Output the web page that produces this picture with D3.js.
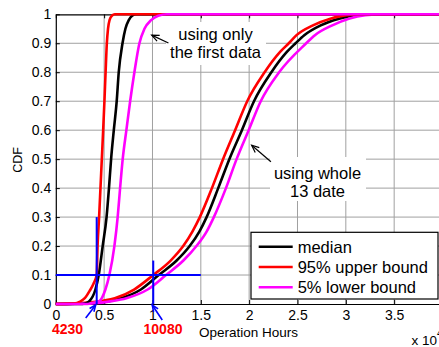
<!DOCTYPE html>
<html>
<head>
<meta charset="utf-8">
<script src="https://cdn.jsdelivr.net/npm/d3@7/dist/d3.min.js"></script>
<style>
  body { margin: 0; background: #fff; }
  text { font-family: "Liberation Sans", Arial, Helvetica, sans-serif; }
</style>
</head>
<body>
<svg id="chart" width="439" height="347"></svg>
<script>
// Axis ticks (operation hours, shown in units of 10^4)
const xTicks = [0, 5000, 10000, 15000, 20000, 25000, 30000, 35000];
const yTicks = [0, 0.1, 0.2, 0.3, 0.4, 0.5, 0.6, 0.7, 0.8, 0.9, 1];

// CDF curves estimated from the first data only: [hours, cdf]
const firstMedian = [[0,0],[2500,0],[3000,0.002],[3470,0.01],[4100,0.05],[4440,0.1],[4850,0.2],[5250,0.3],[5500,0.4],[5720,0.5],[6000,0.6],[6300,0.7],[6510,0.8],[6900,0.9],[7200,0.95],[7550,0.98],[7900,0.995],[8300,1],[40000,1]];
const firstUpper  = [[0,0],[2000,0.002],[2500,0.008],[3000,0.02],[3500,0.045],[3900,0.07],[4230,0.1],[4320,0.2],[4480,0.3],[4620,0.4],[4760,0.5],[4900,0.6],[5030,0.7],[5150,0.8],[5280,0.9],[5400,0.95],[5560,0.98],[5800,0.995],[6100,1],[40000,1]];
const firstLower  = [[0,0],[3000,0],[3600,0.002],[4500,0.01],[5130,0.05],[5540,0.1],[6060,0.2],[6400,0.3],[6650,0.4],[6920,0.5],[7300,0.6],[7690,0.7],[8130,0.8],[8650,0.9],[9170,0.95],[9860,0.98],[10600,0.995],[11500,1],[40000,1]];

// CDF curves estimated from the whole 13 data: [hours, cdf]
const wholeMedian = [[0,0],[2000,0.001],[4000,0.004],[5500,0.01],[6750,0.02],[8800,0.05],[10650,0.1],[12500,0.15],[13850,0.2],[14850,0.25],[15600,0.3],[16800,0.4],[17950,0.5],[19250,0.6],[20500,0.7],[22300,0.8],[23900,0.87],[24800,0.9],[25700,0.928],[27400,0.962],[29300,0.985],[31000,0.997],[33000,1],[40000,1]];
const wholeUpper  = [[0,0],[3000,0.004],[5000,0.012],[6100,0.02],[8100,0.05],[10080,0.1],[11880,0.15],[13180,0.2],[14130,0.25],[14900,0.3],[16150,0.4],[17300,0.5],[18550,0.6],[19800,0.7],[21600,0.8],[23200,0.87],[24100,0.9],[24900,0.928],[26600,0.962],[28400,0.985],[30100,0.997],[32000,1],[40000,1]];
const wholeLower  = [[0,0],[4000,0.003],[5800,0.01],[7300,0.02],[9500,0.05],[11400,0.1],[13200,0.15],[14550,0.2],[15600,0.25],[16350,0.3],[17600,0.4],[18700,0.5],[19950,0.6],[21200,0.7],[23100,0.8],[25900,0.9],[26800,0.928],[28600,0.962],[30300,0.985],[32000,0.997],[34000,1],[40000,1]];

// 10% quantile markers
const thresholdLevel = 0.1;
const thresholdHours = [4230, 10080];

const legendLabels = ["median", "95% upper bound", "5% lower bound"];
const legendColors = ["#000000", "#ff0000", "#ff00ff"];

const svg = d3.select("#chart");
const x = d3.scaleLinear().domain([0, 40000]).range([55.8, 442.5]);
const y = d3.scaleLinear().domain([0, 1]).range([304, 14.3]);
const font = '"Liberation Sans", Arial, sans-serif';

// grid
const grid = svg.append("g").attr("stroke", "#a0a0a0").attr("stroke-width", 1);
grid.selectAll(".gx").data(xTicks.slice(1)).join("line")
  .attr("x1", d => x(d)).attr("x2", d => x(d)).attr("y1", y(0)).attr("y2", y(1));
grid.selectAll(".gy").data(yTicks.slice(1, -1)).join("line")
  .attr("x1", x(0)).attr("x2", x(40000)).attr("y1", d => y(d)).attr("y2", d => y(d));

// white boxes behind the annotation texts
const notes = [
  { lines: ["using only", "the first data"], cx: 215.5, top: 22, bottom: 65, left: 166, right: 266, base: 40 },
  { lines: ["using whole", "13 date"], cx: 317.5, top: 157, bottom: 201, left: 270, right: 366, base: 178.5 }
];
notes.forEach(n => {
  svg.append("rect").attr("x", n.left).attr("y", n.top)
    .attr("width", n.right - n.left).attr("height", n.bottom - n.top).attr("fill", "#fff");
});

// axes with inward ticks
const xAxis = d3.axisBottom(x).tickValues(xTicks).tickSizeInner(-4).tickSizeOuter(0)
  .tickPadding(6).tickFormat(d => String(d / 1e4));
const gx = svg.append("g").attr("transform", `translate(0,${y(0)})`).call(xAxis);
gx.selectAll("text").attr("font-size", 14).attr("font-family", font).attr("fill", "#000");

const yAxis = d3.axisLeft(y).tickValues(yTicks).tickSizeInner(-4).tickSizeOuter(0)
  .tickPadding(4.5).tickFormat(d => String(d));
const gy = svg.append("g").attr("transform", `translate(${x(0)},0)`).call(yAxis);
gy.selectAll("text").attr("font-size", 14).attr("font-family", font).attr("fill", "#000");

const gt = svg.append("g").attr("transform", `translate(0,${y(1)})`)
  .call(d3.axisTop(x).tickValues(xTicks).tickSizeInner(-4).tickSizeOuter(0).tickFormat(""));
[gx, gy, gt].forEach(g => {
  g.select(".domain").attr("stroke", "#000").attr("stroke-width", 1.2);
  g.selectAll(".tick line").attr("stroke", "#000");
});

// curves
const line = d3.line().x(d => x(d[0])).y(d => y(d[1])).curve(d3.curveMonotoneX);
const curves = [
  { data: wholeMedian, color: legendColors[0] },
  { data: wholeUpper, color: legendColors[1] },
  { data: wholeLower, color: legendColors[2] },
  { data: firstMedian, color: legendColors[0] },
  { data: firstUpper, color: legendColors[1] },
  { data: firstLower, color: legendColors[2] }
];
svg.append("g").selectAll("path").data(curves).join("path")
  .attr("d", d => line(d.data)).attr("fill", "none")
  .attr("stroke", d => d.color).attr("stroke-width", 2.6).attr("stroke-linejoin", "round");

// quantile guide lines
const blue = "#0000ff";
svg.append("line").attr("x1", x(0)).attr("x2", x(15000))
  .attr("y1", y(thresholdLevel)).attr("y2", y(thresholdLevel))
  .attr("stroke", blue).attr("stroke-width", 2);
const guideTops = [0.3, 0.15];
thresholdHours.forEach((h, i) => {
  svg.append("line").attr("x1", x(h)).attr("x2", x(h))
    .attr("y1", y(0)).attr("y2", y(guideTops[i]))
    .attr("stroke", blue).attr("stroke-width", 2);
});

function arrow(x1, y1, x2, y2, color, head, width) {
  const a = Math.atan2(y2 - y1, x2 - x1);
  const g = svg.append("g").attr("stroke", color).attr("stroke-width", width).attr("fill", "none");
  g.append("line").attr("x1", x1).attr("y1", y1).attr("x2", x2).attr("y2", y2);
  g.append("path").attr("d",
    `M${x2 - head * Math.cos(a - 0.4)},${y2 - head * Math.sin(a - 0.4)} L${x2},${y2} L${x2 - head * Math.cos(a + 0.4)},${y2 - head * Math.sin(a + 0.4)}`);
}

// arrows pointing at the quantile hours
const tailOffsets = [[-11, 14], [9, 16]];
thresholdHours.forEach((h, i) => {
  arrow(x(h) + tailOffsets[i][0], y(0) + tailOffsets[i][1], x(h) - 1, y(0) + 1, blue, 7, 1.6);
});
// quantile labels
const labelCx = [67.5, 163];
thresholdHours.forEach((h, i) => {
  svg.append("text").attr("x", labelCx[i]).attr("y", 333.5).attr("text-anchor", "middle")
    .attr("font-size", 14).attr("font-weight", "bold").attr("fill", "#ff0000").text(h);
});

// annotation texts and arrows
notes.forEach(n => {
  n.lines.forEach((t, i) => {
    svg.append("text").attr("x", n.cx).attr("y", n.base + i * 18.3).attr("text-anchor", "middle")
      .attr("font-size", 16.5).attr("fill", "#000").text(t);
  });
});
arrow(x(11650), y(0.901), x(9920), y(0.928), "#000", 8, 1.2);
arrow(x(22250), y(0.491), x(20260), y(0.548), "#000", 8, 1.2);

// legend
const lg = svg.append("g");
lg.append("rect").attr("x", 251).attr("y", 232.3).attr("width", 187).attr("height", 66.7)
  .attr("fill", "#fff").attr("stroke", "#000").attr("stroke-width", 1.2);
legendLabels.forEach((t, i) => {
  const cy = 246.7 + i * 20.3;
  lg.append("line").attr("x1", 258.7).attr("x2", 292.7).attr("y1", cy).attr("y2", cy)
    .attr("stroke", legendColors[i]).attr("stroke-width", 2.6);
  lg.append("text").attr("x", 297.7).attr("y", cy + 6).attr("font-size", 16.5).attr("fill", "#000").text(t);
});

// axis titles
svg.append("text").attr("transform", "translate(22,160) rotate(-90)").attr("text-anchor", "middle")
  .attr("font-size", 12.5).attr("fill", "#000").text("CDF");
svg.append("text").attr("x", 248.5).attr("y", 336.5).attr("text-anchor", "middle")
  .attr("font-size", 13.5).attr("fill", "#000").text("Operation Hours");
const mult = svg.append("text").attr("x", 411.5).attr("y", 345).attr("font-size", 13.5).attr("fill", "#000");
mult.append("tspan").text("x 10");
mult.append("tspan").attr("dy", -8).attr("font-size", 10).text("4");
</script>
</body>
</html>
